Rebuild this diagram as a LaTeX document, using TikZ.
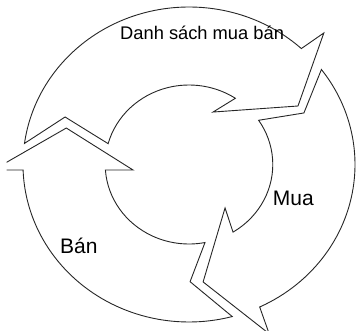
\documentclass[tikz,border=0pt]{standalone}
\usepackage{fontspec}
\setmainfont{Liberation Sans}
\usetikzlibrary{positioning}

\newcommand\outerrad{157.5}
\newcommand\innerrad{79.5}

\begin{document}
\begin{tikzpicture}[
x=1pt, y=1pt,
ringarrow/.style={
draw=black!85,
line width=0.9pt,
line join=miter,
fill=white
},
toptext/.style={inner sep=0pt, font=\fontsize{18.3}{22}\selectfont},
sidetext/.style={inner sep=0pt, font=\fontsize{21}{25}\selectfont}
]

\useasboundingbox (0,0) rectangle (356,332);
\clip (6.5,1.5) rectangle (356,332);

\begin{scope}[shift={(189,167.5)}, xscale=1.054]
% top arrow
\draw[ringarrow] (172.3:\outerrad) -- (158:126.8) -- (164.8:\innerrad)
arc[start angle=164.8, end angle=56.4, radius=\innerrad pt]
-- (66.5:57.2) -- (29.5:118.8) -- (45.8:183.5) -- (47.4:\outerrad)
arc[start angle=47.4, end angle=172.3, radius=\outerrad pt] -- cycle;

% right arrow
\draw[ringarrow] (37.1:\outerrad) -- (25.3:120.6) -- (33.8:\innerrad)
arc[start angle=33.8, end angle=-58.3, radius=\innerrad pt]
-- (-51.8:55.3) -- (-83.5:118.2) -- (-65.8:185.6) -- (-64.8:\outerrad)
arc[start angle=-64.8, end angle=37.1, radius=\outerrad pt] -- cycle;

% left arrow
\draw[ringarrow] (-74.9:\outerrad)
arc[start angle=-74.9, end angle=-178, radius=\outerrad pt]
-- (-178.3:185.9) -- (162.6:122) -- (-174.1:53.4) -- (-176:\innerrad)
arc[start angle=-176, end angle=-79, radius=\innerrad pt]
-- (-89.5:117.2) -- cycle;
\end{scope}

\node[toptext, anchor=base west] (list) at (120,292.5) {Danh sách mua bán};
\node[sidetext, anchor=base west] (buy) at (272.7,126) {Mua};
\node[sidetext, anchor=base west] (sell) at (60,78) {Bán};

\end{tikzpicture}
\end{document}
